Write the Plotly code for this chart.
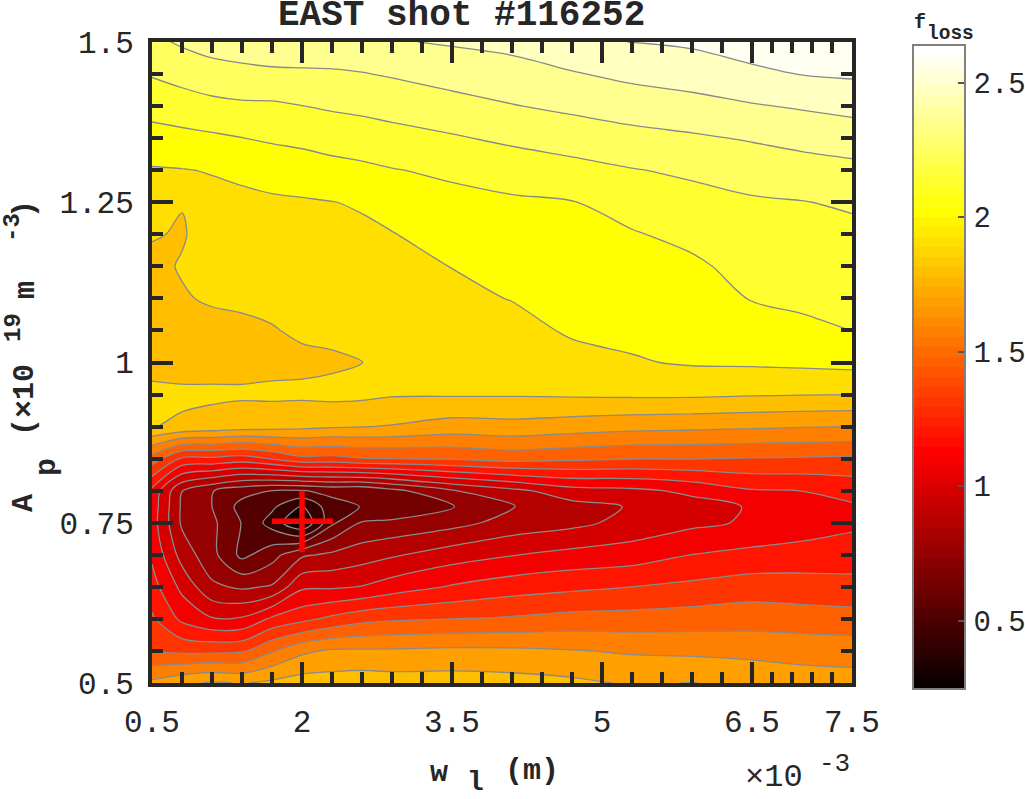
import numpy as np
import plotly.graph_objects as go

# Grid (x in units of 1e-3 m, y in 1e19 m^-3)
w1 = [0.5, 0.8, 1.1, 1.4, 1.7, 2.0, 2.3, 2.6, 2.9, 3.5, 4.1, 4.7, 5.3, 5.9, 6.5, 7.0, 7.5]
ap = [0.50, 0.55, 0.60, 0.65, 0.70, 0.75, 0.775, 0.80, 0.85, 0.90, 0.95, 1.00,
      1.05, 1.10, 1.15, 1.20, 1.25, 1.30, 1.35, 1.40, 1.45, 1.50]

# f_loss read column by column, from Ap = 0.5 up to Ap = 1.5
c050 = [1.64, 1.38, 1.29, 1.205, 1.14, 1.10, 1.11, 1.13, 1.45, 1.845, 1.87, 1.80, 1.79, 1.80, 1.81, 1.85, 1.90, 1.945, 2.025, 2.11, 2.19, 2.27]
c080 = [1.70, 1.36, 1.134, 1.015, 0.886, 0.80, 0.80, 0.82, 1.25, 1.82, 1.865, 1.79, 1.79, 1.83, 1.85, 1.83, 1.846, 1.95, 2.037, 2.13, 2.22, 2.31]
c110 = [1.74, 1.36, 1.055, 0.84, 0.74, 0.73, 0.705, 0.71, 1.25, 1.798, 1.86, 1.80, 1.80, 1.855, 1.875, 1.895, 1.925, 1.96, 2.05, 2.15, 2.25, 2.34]
c140 = [1.72, 1.37, 1.06, 0.80, 0.56, 0.585, 0.55, 0.634, 1.22, 1.78, 1.855, 1.81, 1.82, 1.858, 1.88, 1.905, 1.93, 1.977, 2.066, 2.163, 2.264, 2.355]
c170 = [1.75, 1.49, 1.18, 0.83, 0.66, 0.43, 0.50, 0.59, 1.28, 1.77, 1.86, 1.815, 1.835, 1.864, 1.889, 1.915, 1.94, 1.993, 2.083, 2.164, 2.273, 2.37]
c200 = [1.78, 1.59, 1.24, 1.026, 0.80, 0.25, 0.35, 0.585, 1.358, 1.754, 1.86, 1.82, 1.855, 1.87, 1.895, 1.92, 1.945, 2.007, 2.098, 2.18, 2.277, 2.37]
c230 = [1.78, 1.63, 1.30, 1.03, 0.84, 0.57, 0.55, 0.62, 1.35, 1.74, 1.87, 1.825, 1.865, 1.878, 1.90, 1.925, 1.952, 2.03, 2.114, 2.195, 2.28, 2.373]
c260 = [1.79, 1.63, 1.35, 1.05, 0.88, 0.715, 0.595, 0.61, 1.38, 1.73, 1.865, 1.84, 1.875, 1.895, 1.915, 1.935, 1.965, 2.045, 2.125, 2.207, 2.29, 2.38]
c290 = [1.78, 1.63, 1.37, 1.10, 0.917, 0.73, 0.60, 0.67, 1.386, 1.72, 1.85, 1.87, 1.89, 1.91, 1.93, 1.95, 2.00, 2.063, 2.141, 2.223, 2.305, 2.40]
c350 = [1.78, 1.64, 1.386, 1.17, 0.99, 0.78, 0.70, 0.81, 1.40, 1.68, 1.85, 1.876, 1.90, 1.93, 1.956, 1.996, 2.037, 2.087, 2.17, 2.256, 2.339, 2.42]
c410 = [1.77, 1.636, 1.40, 1.22, 1.04, 0.86, 0.81, 0.90, 1.43, 1.69, 1.85, 1.887, 1.92, 1.958, 1.99, 2.02, 2.053, 2.115, 2.204, 2.29, 2.365, 2.44]
c470 = [1.75, 1.62, 1.425, 1.247, 1.08, 0.90, 0.89, 1.00, 1.41, 1.67, 1.855, 1.92, 1.967, 1.99, 2.015, 2.04, 2.064, 2.145, 2.233, 2.318, 2.40, 2.489]
c530 = [1.715, 1.60, 1.43, 1.273, 1.10, 0.97, 0.94, 1.02, 1.39, 1.65, 1.86, 1.945, 1.98, 2.005, 2.03, 2.06, 2.11, 2.176, 2.26, 2.347, 2.435, 2.525]
c590 = [1.73, 1.59, 1.44, 1.30, 1.16, 1.02, 1.00, 1.07, 1.39, 1.64, 1.86, 1.965, 1.995, 2.02, 2.05, 2.094, 2.145, 2.20, 2.28, 2.372, 2.457, 2.54]
c650 = [1.70, 1.58, 1.45, 1.33, 1.19, 1.06, 1.055, 1.15, 1.38, 1.63, 1.85, 1.97, 2.022, 2.073, 2.103, 2.135, 2.169, 2.228, 2.305, 2.40, 2.494, 2.585]
c700 = [1.67, 1.57, 1.44, 1.32, 1.21, 1.09, 1.11, 1.16, 1.375, 1.62, 1.845, 1.978, 2.046, 2.088, 2.118, 2.148, 2.178, 2.248, 2.329, 2.42, 2.526, 2.61]
c750 = [1.66, 1.564, 1.43, 1.31, 1.217, 1.135, 1.145, 1.197, 1.367, 1.614, 1.841, 1.988, 2.07, 2.10, 2.13, 2.157, 2.195, 2.265, 2.348, 2.442, 2.537, 2.62]
columns = [c050, c080, c110, c140, c170, c200, c230, c260, c290, c350, c410, c470, c530, c590, c650, c700, c750]

z_min, z_max = 0.25, 2.636
n_levels = 20

x_major = [0.5, 2, 3.5, 5, 6.5, 7.5]
x_major_text = ["0.5", "2", "3.5", "5", "6.5", "7.5"]
x_minor = [0.8, 1.1, 1.4, 1.7, 2.3, 2.6, 2.9, 3.2, 3.8, 4.1, 4.4, 4.7, 5.3, 5.6, 5.9, 6.2, 6.7, 6.9, 7.1, 7.3]
y_major = [0.5, 0.75, 1, 1.25, 1.5]
y_major_text = ["0.5", "0.75", "1", "1.25", "1.5"]
y_minor = [0.55, 0.6, 0.65, 0.7, 0.8, 0.85, 0.9, 0.95, 1.05, 1.1, 1.15, 1.2, 1.3, 1.35, 1.4, 1.45]
cb_ticks = [0.5, 1, 1.5, 2, 2.5]
cb_text = ["0.5", "1", "1.5", "2", "2.5"]
cross_w = [1.7, 2.31]
cross_h_ap = [0.7525, 0.7525]
cross_v_w = [2.0, 2.0]
cross_v_ap = [0.704, 0.8]

Z = np.array(columns).T
W, H = 1025, 799
INK = "#262626"
FONT = "Liberation Mono"


def PX(px):
    return px / W


def PY(py):
    return 1 - py / H


def hot64(f):
    i = min(63, max(0, int(f * 64)))
    r = min(1.0, (i + 1) / 24)
    g = 0.0 if i < 24 else min(1.0, (i - 23) / 24)
    b = 0.0 if i < 48 else (i - 47) / 16
    return "rgb(%d,%d,%d)" % (round(r * 255), round(g * 255), round(b * 255))


step = (z_max - z_min) / (n_levels + 1)
mids = [z_min + (i + 0.5) * step for i in range(n_levels + 1)]
band_scale = [[i / n_levels, hot64((m - z_min) / (z_max - z_min))] for i, m in enumerate(mids)]
bar_scale = []
for i in range(64):
    c = hot64((i + 0.5) / 64)
    bar_scale += [[i / 64, c], [(i + 1) / 64, c]]
bar_levels = [z_min + (i + 0.5) * (z_max - z_min) / 64 for i in range(64)]

fig = go.Figure()
fig.add_trace(go.Contour(
    x=w1, y=ap, z=Z, showscale=False, colorscale=band_scale, autocontour=False,
    contours=dict(start=z_min + step, end=z_min + n_levels * step, size=step,
                  coloring="fill", showlines=True),
    line=dict(color="#8a8a8a", width=1.3, smoothing=0.9), hoverinfo="skip",
))
fig.add_trace(go.Scatter(x=cross_w, y=cross_h_ap, mode="lines", line=dict(color="#ff0000", width=5.5), showlegend=False))
fig.add_trace(go.Scatter(x=cross_v_w, y=cross_v_ap, mode="lines", line=dict(color="#ff0000", width=5.5), showlegend=False))
fig.add_trace(go.Heatmap(
    x=[0, 1], y=bar_levels, z=[[v, v] for v in bar_levels], zmin=z_min, zmax=z_max,
    colorscale=bar_scale, showscale=False, hoverinfo="skip", xaxis="x2", yaxis="y2",
))

axis_common = dict(
    showgrid=False, zeroline=False, showline=True, linewidth=4, linecolor=INK, mirror="ticks",
    ticks="inside", ticklen=21, tickwidth=4, tickcolor=INK, tickmode="array", automargin=False,
    tickfont=dict(family=FONT, size=31, color=INK),
)
fig.update_layout(
    template="none",
    width=W, height=H, margin=dict(l=0, r=0, t=0, b=0, autoexpand=False),
    paper_bgcolor="white", plot_bgcolor="white", showlegend=False,
    xaxis=dict(domain=[PX(152), PX(852)], range=[0.5, 7.5], tickvals=x_major, ticktext=x_major_text,
               minor=dict(ticks="inside", ticklen=11, tickwidth=4, tickcolor=INK, tickmode="array", tickvals=x_minor, showgrid=False),
               ticklabelstandoff=8, **axis_common),
    yaxis=dict(domain=[PY(683), PY(42)], range=[0.5, 1.5], tickvals=y_major, ticktext=y_major_text,
               minor=dict(ticks="inside", ticklen=11, tickwidth=4, tickcolor=INK, tickmode="array", tickvals=y_minor, showgrid=False),
               ticklabelstandoff=8, **axis_common),
    xaxis2=dict(domain=[PX(914), PX(964)], range=[0, 1], anchor="y2", showticklabels=False, ticks="",
                showline=True, mirror=True, linecolor="#808080", linewidth=1.5, showgrid=False, zeroline=False, automargin=False),
    yaxis2=dict(domain=[PY(688), PY(46)], range=[z_min, z_max], anchor="x2", side="right",
                tickmode="array", tickvals=cb_ticks, ticktext=cb_text, ticks="inside", ticklen=6, tickwidth=1.5,
                tickcolor="#555555", showline=True, mirror=True, linecolor="#808080", linewidth=1.5, showgrid=False,
                zeroline=False, automargin=False, ticklabelstandoff=2,
                tickfont=dict(family=FONT, size=29, color=INK)),
)


def label(text, px, py, size, bold=True, angle=0):
    fig.add_annotation(
        text=text, xref="paper", yref="paper", x=PX(px), y=PY(py), xanchor="center", yanchor="middle",
        showarrow=False, textangle=angle,
        font=dict(family=FONT, size=size, color=INK, weight="bold" if bold else "normal"),
    )


label("EAST shot #116252", 461, 15, 36)
label("w", 439, 773, 30)
label("l", 475, 782, 28)
label("(m)", 532, 771, 30)
label("×10", 774, 777, 32, bold=False)
label("-3", 834, 764, 26, bold=False)
label("f", 920, 22, 20)
label("loss", 950, 34, 19.5)
label("A", 24, 503, 30, angle=-90)
label("p", 47, 467, 30, angle=-90)
label("(×10", 25, 400, 30, angle=-90)
label("19", 13, 328, 24, angle=-90)
label("m", 26, 290, 30, angle=-90)
label("-3", 13, 228, 24, angle=-90)
label(")", 25, 209, 30, angle=-90)

fig.write_html("out.html", config={"displayModeBar": False},
               post_script="document.body.style.margin='0';document.documentElement.style.overflow='hidden';")
